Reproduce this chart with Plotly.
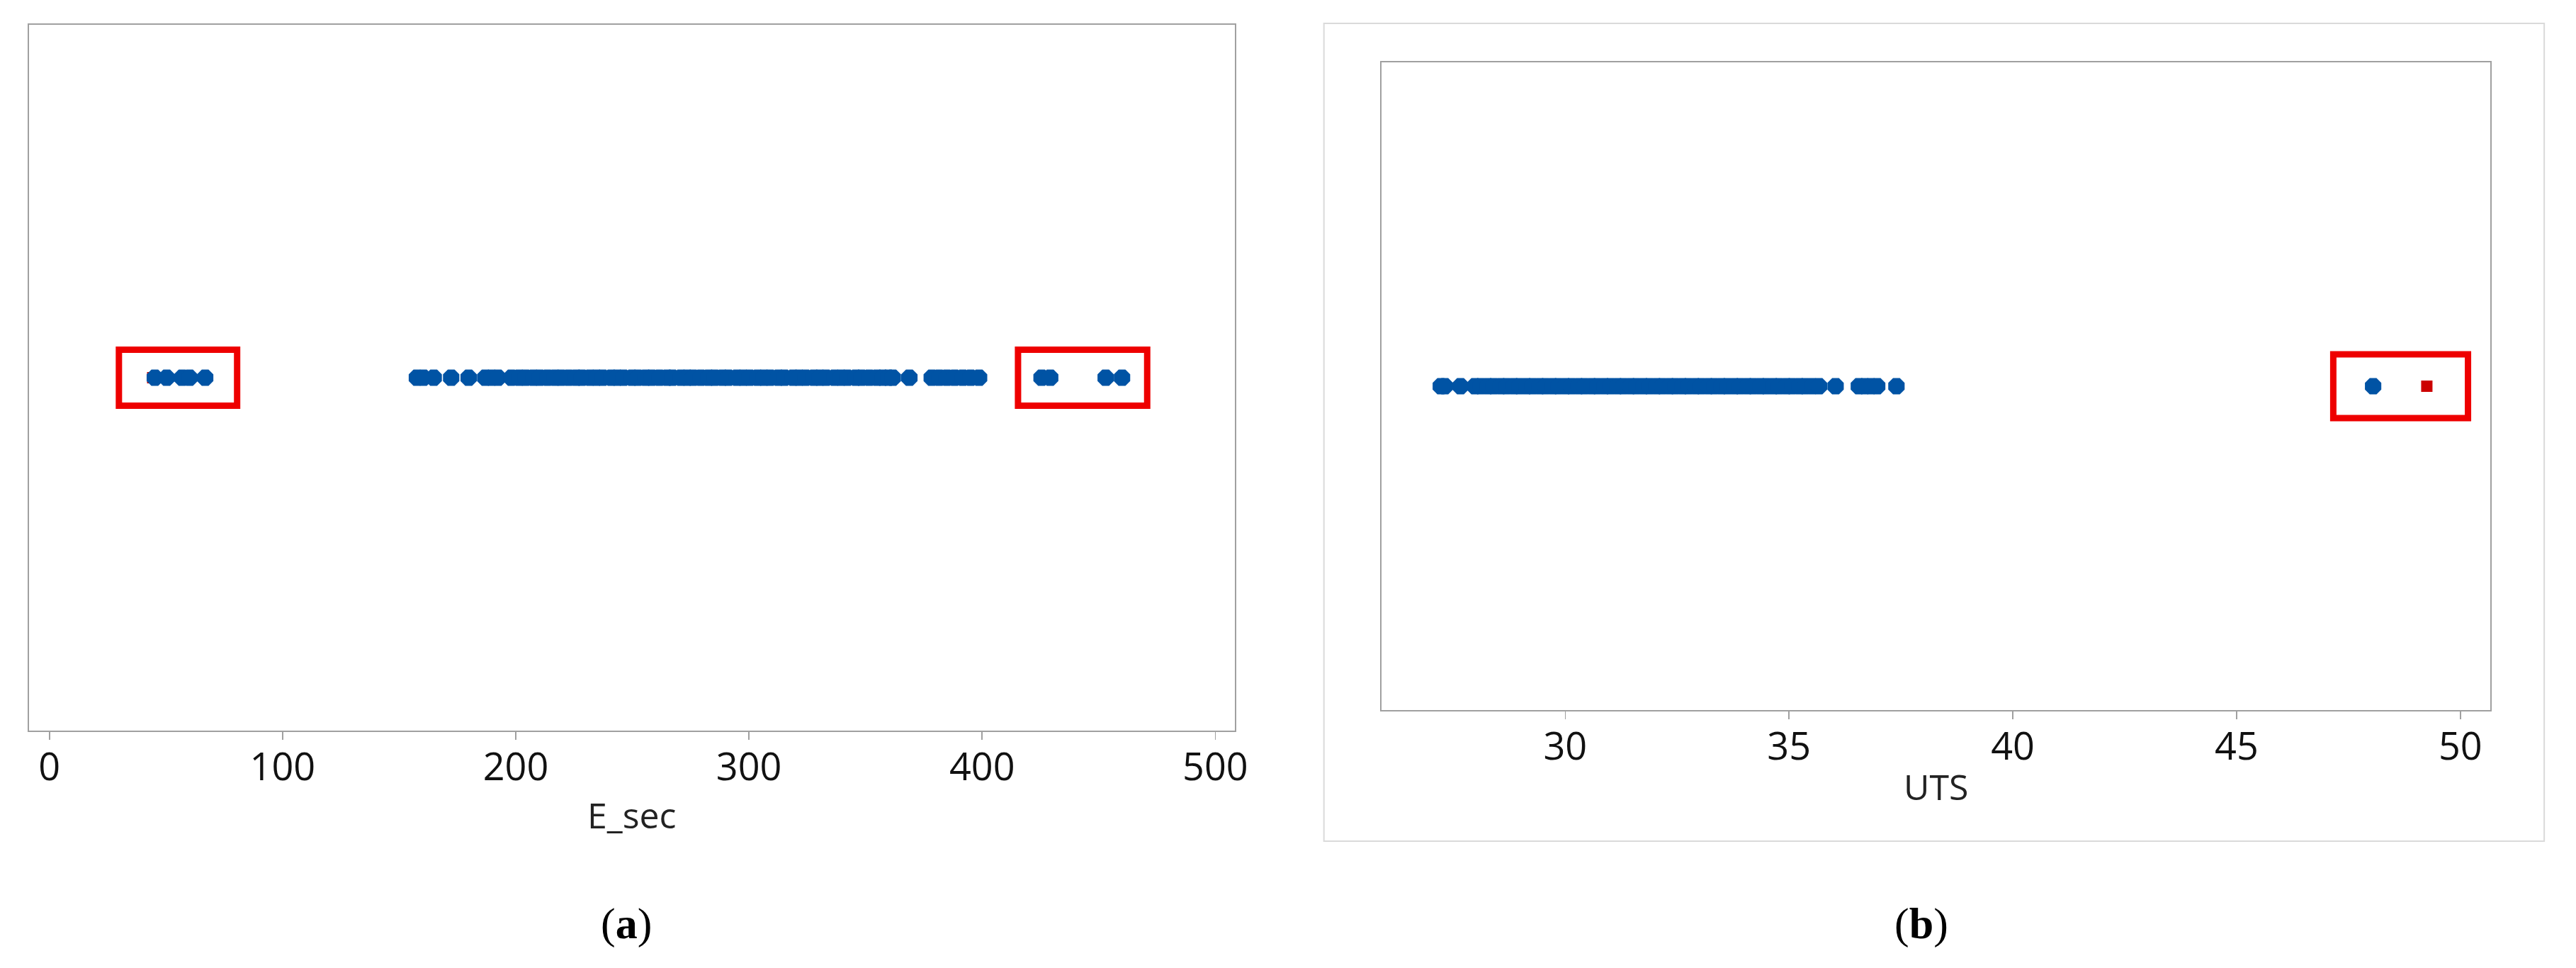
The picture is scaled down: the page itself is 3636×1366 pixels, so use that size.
import plotly.graph_objects as go

# ---------------- data ----------------
# Panel (a): E_sec individual values
esec_low_outliers = [45.2, 50.3, 56.9, 60.1, 66.8]
esec_flagged = [44.3]
esec_main = [157.6, 160.4, 164.8, 172.3, 179.8, 186.9, 189.6, 192.4,
             198.1, 201.4, 204.2, 207.5, 210.3, 213.6, 216.8, 219.5, 222.7, 225.9,
             228.4, 231.8, 234.6, 237.3, 240.9, 243.5, 246.2, 249.8, 252.4, 255.7,
             258.3, 261.6, 264.9, 267.2, 270.8, 273.5, 276.1, 279.4, 282.7, 285.3,
             288.6, 291.2, 294.8, 297.5, 300.3, 303.7, 306.4, 309.1, 312.6, 315.2,
             318.9, 321.5, 324.3, 327.8, 330.4, 333.1, 336.7, 339.5, 342.2, 345.8,
             348.3, 351.6, 354.9, 357.4, 359.8, 361.7,
             368.8, 378.4, 381.6, 384.9, 388.2, 391.7, 395.1, 398.7]
esec_high_outliers = [425.5, 429.2, 453.0, 460.0]
esec_ticks = [0, 100, 200, 300, 400, 500]

# Panel (b): UTS individual values
uts_main = [27.22, 27.31, 27.66,
            27.98, 28.11, 28.27, 28.40, 28.56, 28.69, 28.85, 28.98, 29.14, 29.27,
            29.43, 29.56, 29.72, 29.85, 30.01, 30.14, 30.30, 30.43, 30.59, 30.72,
            30.88, 31.01, 31.17, 31.30, 31.46, 31.59, 31.75, 31.88, 32.04, 32.17,
            32.33, 32.46, 32.62, 32.75, 32.91, 33.04, 33.20, 33.33, 33.49, 33.62,
            33.78, 33.91, 34.07, 34.20, 34.36, 34.49, 34.65, 34.78, 34.94, 35.07,
            35.23, 35.36, 35.52, 35.67,
            36.04, 36.56, 36.69, 36.83, 36.97, 37.40]
uts_outlier = [48.05]
uts_flagged = [49.25]
uts_ticks = [30, 35, 40, 45, 50]

# ---------------- styling ----------------
W, H = 3636, 1366
BLUE = "#0053a4"
RED_BOX = "#ee0000"
RED_MARK = "#cc0000"
AXIS_GRAY = "#a0a0a0"
TICK_FONT = dict(family="Open Sans, Noto Sans, sans-serif", size=54, color="#111111")
TITLE_FONT = dict(family="Open Sans, Noto Sans, sans-serif", size=50, color="#222222")
CAP_FONT = dict(family="Liberation Serif, DejaVu Serif, serif", size=62, color="#000000")


def fx(px):
    return px / W


def fy(py):
    return 1 - py / H


fig = go.Figure()

circle = dict(symbol="octagon", size=25, color=BLUE, line=dict(width=0))
square = dict(symbol="square", size=16, color=RED_MARK, line=dict(width=0))

# panel (a)
fig.add_trace(go.Scatter(x=esec_flagged, y=[0] * len(esec_flagged), mode="markers",
                         marker=square, xaxis="x", yaxis="y", showlegend=False))
esec_all = esec_low_outliers + esec_main + esec_high_outliers
fig.add_trace(go.Scatter(x=esec_all, y=[0] * len(esec_all), mode="markers",
                         marker=circle, xaxis="x", yaxis="y", showlegend=False))

# panel (b)
uts_blue = uts_main + uts_outlier
fig.add_trace(go.Scatter(x=uts_blue, y=[0] * len(uts_blue), mode="markers",
                         marker=circle, xaxis="x2", yaxis="y2", showlegend=False))
fig.add_trace(go.Scatter(x=uts_flagged, y=[0] * len(uts_flagged), mode="markers",
                         marker=square, xaxis="x2", yaxis="y2", showlegend=False))

common_x = dict(showline=True, mirror=True, linecolor=AXIS_GRAY, linewidth=2,
                ticks="outside", ticklen=11, tickwidth=1.5, tickcolor=AXIS_GRAY,
                ticklabelstandoff=-8,
                showgrid=False, zeroline=False, tickfont=TICK_FONT, fixedrange=True)
common_y = dict(showline=True, mirror=True, linecolor=AXIS_GRAY, linewidth=2,
                showticklabels=False, ticks="", showgrid=False, zeroline=False,
                range=[-1, 1], fixedrange=True)

fig.update_layout(
    width=W, height=H,
    margin=dict(l=0, r=0, t=0, b=0),
    paper_bgcolor="white", plot_bgcolor="white",
    hovermode=False,
    xaxis=dict(domain=[fx(41), fx(1752)], range=[-8.8, 508.5],
               tickvals=esec_ticks, anchor="y", **common_x),
    yaxis=dict(domain=[fy(1031), fy(35)], anchor="x", **common_y),
    xaxis2=dict(domain=[fx(1960), fx(3532)], range=[25.9, 50.66],
                tickvals=uts_ticks, anchor="y2", **common_x),
    yaxis2=dict(domain=[fy(1002), fy(88)], anchor="x2", **common_y),
)

# outer light frame of panel (b)
fig.add_shape(type="rect", xref="paper", yref="paper",
              x0=fx(1878), x1=fx(3609), y0=fy(1187), y1=fy(33),
              line=dict(color="#dadada", width=2), fillcolor="rgba(0,0,0,0)", layer="below")

# red highlight boxes around the outliers
boxes = [
    ("x", "y", esec_flagged + esec_low_outliers, 14.5, 13.7, 39.5),
    ("x", "y", esec_high_outliers, 10.1, 10.8, 39.5),
    ("x2", "y2", uts_outlier + uts_flagged, 0.89, 0.92, 45),
]
for xr, yr, grp, pl, pr, hh in boxes:
    fig.add_shape(type="rect", xref=xr, yref=yr,
                  x0=min(grp) - pl, x1=max(grp) + pr,
                  ysizemode="pixel", yanchor=0, y0=-hh, y1=hh,
                  line=dict(color=RED_BOX, width=9), fillcolor="rgba(0,0,0,0)")

# axis titles
fig.add_annotation(text="E_sec", xref="paper", yref="paper", x=fx(896), y=fy(1150),
                   showarrow=False, font=TITLE_FONT, xanchor="center", yanchor="middle")
fig.add_annotation(text="UTS", xref="paper", yref="paper", x=fx(2746), y=fy(1110),
                   showarrow=False, font=TITLE_FONT, xanchor="center", yanchor="middle")

# captions
fig.add_annotation(text="(<b>a</b>)", xref="paper", yref="paper", x=fx(888), y=fy(1303),
                   showarrow=False, font=CAP_FONT, xanchor="center", yanchor="middle")
fig.add_annotation(text="(<b>b</b>)", xref="paper", yref="paper", x=fx(2725), y=fy(1303),
                   showarrow=False, font=CAP_FONT, xanchor="center", yanchor="middle")

fig.write_html("out.html", config={"displayModeBar": False, "staticPlot": True},
               post_script="document.body.style.margin='0px';")
